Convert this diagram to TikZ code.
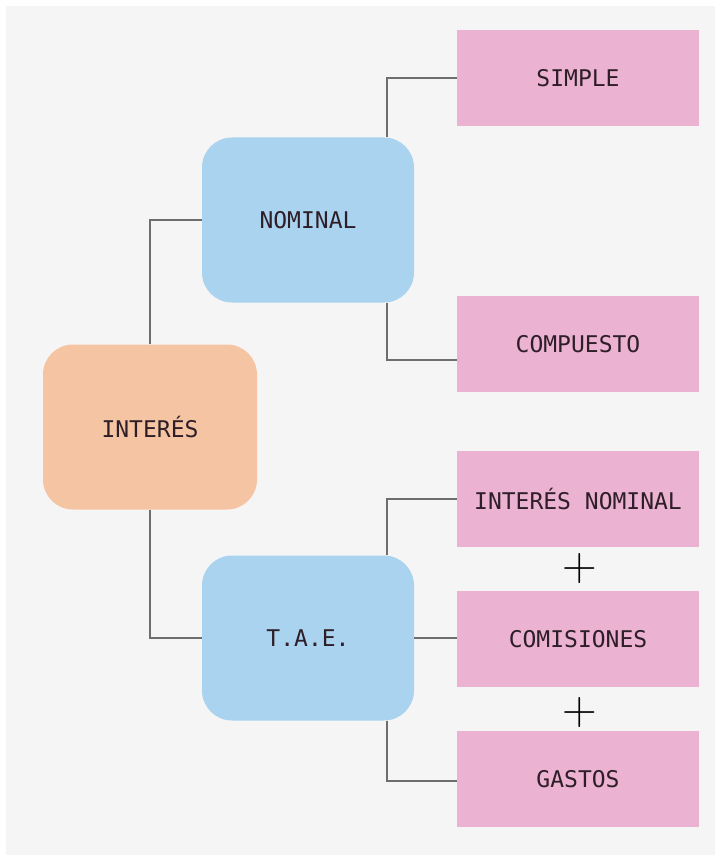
\documentclass[tikz,border=0pt]{standalone}
\usepackage{fontspec}
\setmonofont{DejaVu Sans Mono}
\usetikzlibrary{positioning}
\definecolor{bgcol}{HTML}{F5F5F5}
\definecolor{pinkbox}{HTML}{EBB2D2}
\definecolor{bluebox}{HTML}{A9D3EE}
\definecolor{orangebox}{HTML}{F5C4A3}
\definecolor{txtcol}{HTML}{2E1E28}
\definecolor{linecol}{HTML}{6E6E6E}
\tikzstyle{leaf}=[rectangle,fill=pinkbox,minimum width=242pt,minimum height=96pt,inner sep=0pt]
\tikzstyle{branch}=[rectangle,rounded corners=30pt,fill=bluebox,minimum width=212pt,minimum height=165pt,inner sep=0pt]
\tikzstyle{root}=[rectangle,rounded corners=30pt,fill=orangebox,minimum width=214pt,minimum height=165pt,inner sep=0pt]
\tikzstyle{edge} = [draw,line width=1.4pt,linecol,-]
\tikzstyle{plus}=[inner sep=0pt,text=black,font=\rmfamily\fontsize{48}{48}\selectfont]

\begin{document}
\begin{tikzpicture}[x=1pt,y=-1pt,every node/.style={text=txtcol,font=\ttfamily\fontsize{23}{26}\selectfont}]
          \useasboundingbox (0,0) rectangle (721,861);
          \fill[white] (0,0) rectangle (721,861);
          \fill[bgcol] (6,6) rectangle (715,855);
          \node[root] (interes) at (150,427) {INTERÉS};
          \node[branch] (nominal) at (308,220) {NOMINAL};
          \node[branch] (tae) at (308,638) {T.A.E.};
          \node[leaf] (simple) at (578,78) {SIMPLE};
          \node[leaf] (compuesto) at (578,344) {COMPUESTO};
          \node[leaf] (intnom) at (578,499) {INTERÉS NOMINAL};
          \node[leaf] (comisiones) at (578,639) {COMISIONES};
          \node[leaf] (gastos) at (578,779) {GASTOS};
          \node[plus] (plusa) at (580,569) {+};
          \node[plus] (plusb) at (580,713) {+};
          \draw[edge] (interes.north) |- (nominal.west);
          \draw[edge] (interes.south) |- (tae.west);
          \draw[edge] ([xshift=79pt]nominal.north) |- (simple.west);
          \draw[edge] ([xshift=79pt]nominal.south) |- ([yshift=-16pt]compuesto.west);
          \draw[edge] ([xshift=79pt]tae.north) |- (intnom.west);
          \draw[edge] (tae.east) -- (tae.east -| comisiones.west);
          \draw[edge] ([xshift=79pt]tae.south) |- ([yshift=-2pt]gastos.west);
        \end{tikzpicture}
\end{document}
